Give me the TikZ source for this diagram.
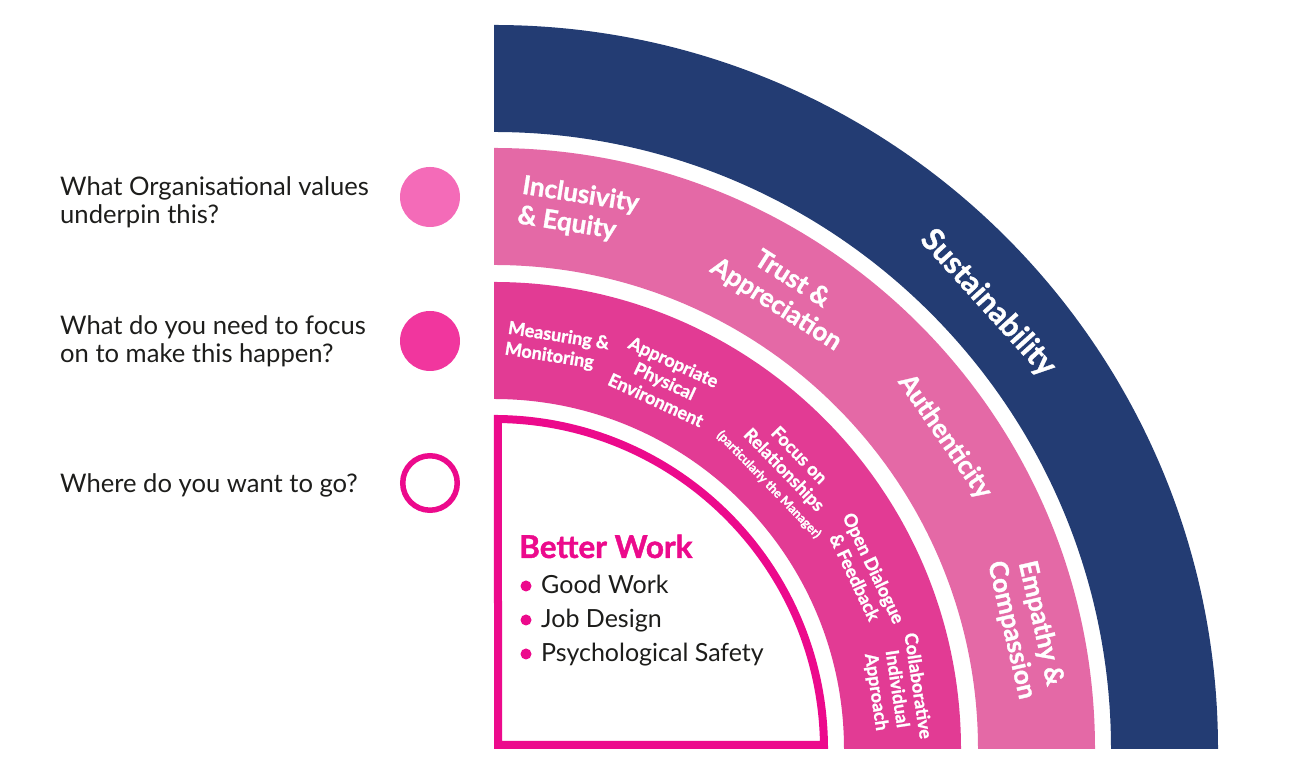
\documentclass[tikz,border=0pt]{standalone}
\usepackage{fontspec}
\setmainfont{Lato}
\newfontfamily\heavyfont{Lato}[BoldFeatures={FakeBold=1.3}]
\usetikzlibrary{calc}
\definecolor{navy}{HTML}{233C73}
\definecolor{ringpink}{HTML}{E469A6}
\definecolor{ringmag}{HTML}{E23B94}
\definecolor{hotpink}{HTML}{EC0A8C}
\definecolor{dotone}{HTML}{F46BB8}
\definecolor{dottwo}{HTML}{F1369E}
\definecolor{ink}{HTML}{1D1D1B}
\begin{document}
\begin{tikzpicture}[x=1pt,y=1pt,
  ringlabel/.style={text=white, font=\heavyfont\bfseries\fontsize{26}{30}\selectfont, align=center, inner sep=0},
  focuslabel/.style={text=white, font=\heavyfont\bfseries\fontsize{18}{21}\selectfont, align=center, inner sep=0},
  question/.style={text=ink, font=\fontsize{25.6}{28}\selectfont, align=left, anchor=west, inner sep=0},
  bulletitem/.style={text=ink, font=\fontsize{25}{28}\selectfont, anchor=base west, inner sep=0},
  bulletdot/.style={fill=hotpink, circle, inner sep=0, minimum size=11pt},
]
\useasboundingbox (0,0) rectangle (1291,783);
\coordinate (O) at (494,34);
% rings
\fill[navy] ($(O)+(724,0)$) arc[start angle=0,end angle=90,radius=724] -- ++(0,-107) arc[start angle=90,end angle=0,radius=617] -- cycle;
\fill[ringpink] ($(O)+(601,0)$) arc[start angle=0,end angle=90,radius=601] -- ++(0,-117) arc[start angle=90,end angle=0,radius=484] -- cycle;
\fill[ringmag] ($(O)+(467,0)$) arc[start angle=0,end angle=90,radius=467] -- ++(0,-117) arc[start angle=90,end angle=0,radius=350] -- cycle;
\draw[hotpink, line width=8, fill=white] ($(O)+(4,4)$) -- ($(O)+(329.98,4)$) arc[start angle=0.69,end angle=89.31,radius=330] -- cycle;
% legend circles
\node[circle, fill=dotone, minimum size=60, inner sep=0] (c1) at (430,586) {};
\node[circle, fill=dottwo, minimum size=60, inner sep=0] (c2) at (430,442) {};
\node[circle, draw=hotpink, line width=5.5, minimum size=54.5, inner sep=0] (c3) at (430,300) {};
\node[question] (q1) at (60,581) {What Organisational values\\underpin this?};
\node[question] (q2) at (60,442) {What do you need to focus\\on to make this happen?};
\node[question] (q3) at (60,298) {Where do you want to go?};
% better work
\node[anchor=base west, inner sep=0, text=hotpink, font=\heavyfont\bfseries\fontsize{31.5}{32}\selectfont] (bw) at (519,225) {Better Work};
\node[bulletitem] (b1) at (541,189) {Good Work};
\node[bulletitem] (b2) at (541,155) {Job Design};
\node[bulletitem] (b3) at (541,121) {Psychological Safety};
\node[bulletdot] (d1) at (526,197) {};
\node[bulletdot] (d2) at (526,163) {};
\node[bulletdot] (d3) at (526,129) {};
% ring labels
\node[ringlabel, font=\heavyfont\bfseries\fontsize{31}{34}\selectfont, rotate=-47.9] (sus) at ($(O)+(42.07:665.5)$) {Sustainability};
\node[ringlabel, align=left, rotate=-8.9] (inc) at ($(O)+(81.1:545.5)$) {Inclusivity\\\& Equity};
\node[ringlabel, rotate=-32.4] (tru) at ($(O)+(57.6:541)$) {Trust \&\\Appreciation};
\node[ringlabel, rotate=-55.3] (aut) at ($(O)+(34.7:548.4)$) {Authenticity};
\node[ringlabel, rotate=-77] (emp) at ($(O)+(12.95:545.6)$) {Empathy \&\\Compassion};
% focus labels
\node[focuslabel, align=left, rotate=-8.9] (mea) at ($(O)+(81.1:407)$) {Measuring \&\\Monitoring};
\node[focuslabel, rotate=-24.9] (app) at ($(O)+(65.1:405.8)$) {Appropriate\\Physical\\Environment};
\node[focuslabel, rotate=-46] (foc) at ($(O)+(43.9:403)$) {Focus on\\Relationships\\[-2pt]{\fontsize{12.5}{14}\selectfont (particularly the Manager)}};
\node[focuslabel, rotate=-64.5] (ope) at ($(O)+(25.47:410.4)$) {Open Dialogue\\\& Feedback};
\node[focuslabel, rotate=-81.5] (col) at ($(O)+(8.48:407)$) {Collaborative\\Individual\\Approach};
\end{tikzpicture}
\end{document}
